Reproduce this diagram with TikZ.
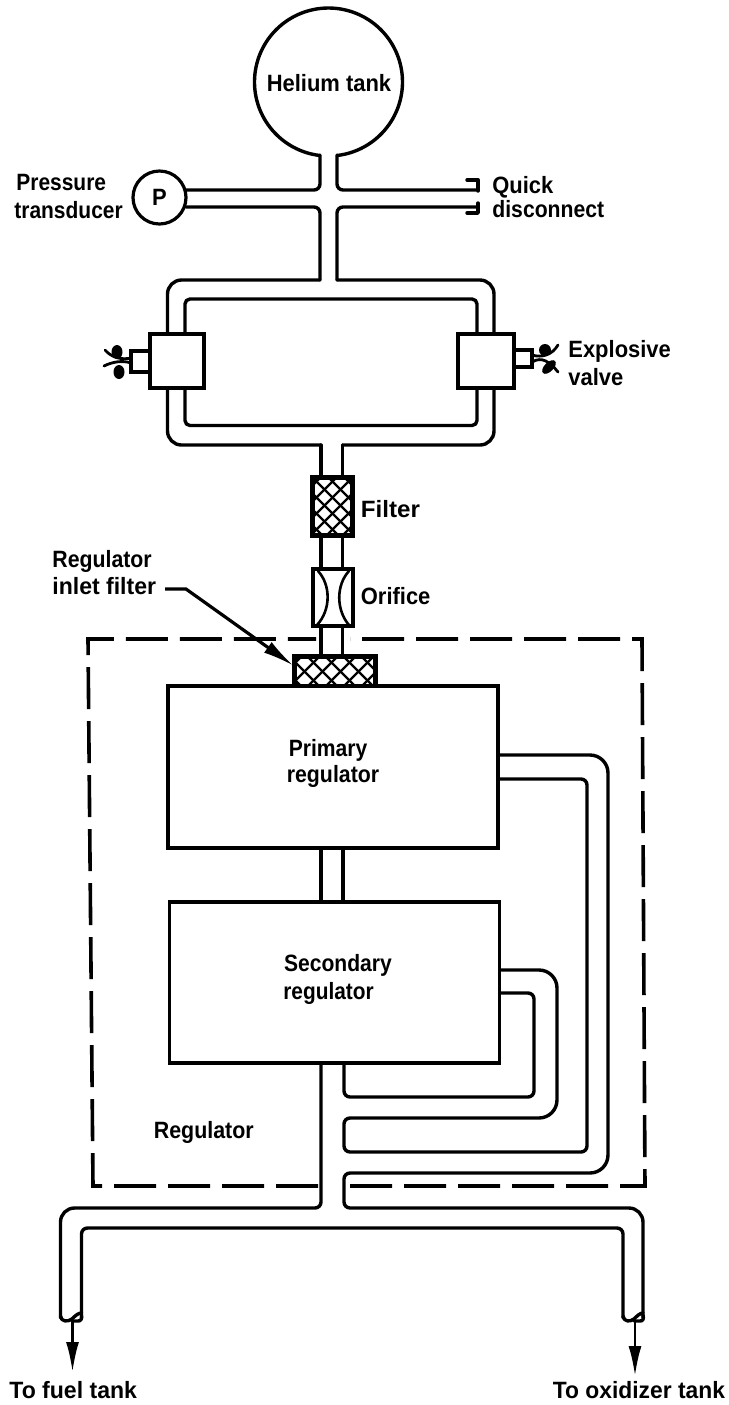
\documentclass[tikz,border=0pt]{standalone}
\usepackage{fontspec}
\usepackage{graphicx}
\setmainfont[FakeStretch=0.93]{Liberation Sans}
\usetikzlibrary{arrows.meta}
\newcommand{\hsz}[2]{\scalebox{#1}[1]{#2}}
\tikzset{
  pipe/.style={line width=1.7pt,line cap=round,line join=round},
  thinpipe/.style={line width=1.3pt,line cap=round,line join=round},
  boxshape/.style={draw,line width=1.6pt,fill=white,inner sep=0pt,rectangle},
  dashbox/.style={line width=1.8pt,dash pattern=on 21pt off 6pt},
  hatchline/.style={line width=1.1pt},
  lab/.style={anchor=base west,inner sep=0pt,font=\bfseries\fontsize{11.8}{13}\selectfont},
  labc/.style={anchor=base,inner sep=0pt,font=\bfseries\fontsize{11.8}{13}\selectfont},
  blob/.style={fill=black,draw=none},
  wire/.style={line width=1.4pt,line cap=round},
  flow/.style={line width=1.3pt,-{Latex[length=15pt,width=6.5pt]}}
}
\begin{document}
\begin{tikzpicture}[x=0.5pt,y=-0.5pt]
\useasboundingbox (0,0) rectangle (729,1405);
% tank
\draw[pipe,domain=-83:263,samples=150,variable=\t]
  plot ({328.5+74*cos(\t)},{82-74*sin(\t)});
% neck and upper walls of the cross pipe
\draw[pipe,rounded corners=3pt] (337,155) -- (337,190) -- (476,190);
\draw[pipe,rounded corners=3pt] (320,155) -- (320,190) -- (186,190);
% pressure transducer
\node[circle,draw,line width=1.6pt,minimum size=26.5pt,inner sep=0pt] (ptrans) at (159.5,197.5) {};
% lower walls and manifold top
\draw[pipe,rounded corners=3pt] (186,207) -- (320,207) -- (320,280);
\draw[pipe,rounded corners=7pt] (320,280) -- (167.5,280) -- (167.5,334);
\draw[pipe,rounded corners=3pt] (478,207) -- (337,207) -- (337,280);
\draw[pipe,rounded corners=7pt] (337,280) -- (494,280) -- (494,334);
% quick disconnect
\draw[pipe] (467,180) -- (478,180) -- (478,191);
\draw[pipe] (478,203) -- (478,213) -- (467,213);
% inner loop
\draw[pipe,rounded corners=2.5pt] (185,334) -- (185,299) -- (477,299) -- (477,334);
\draw[pipe,rounded corners=2.5pt] (185,388) -- (185,425.5) -- (477,425.5) -- (477,388);
% outer lower
\draw[pipe,rounded corners=7pt] (167.5,388) -- (167.5,445) -- (321,445);
\draw[pipe,rounded corners=7pt] (494,388) -- (494,445) -- (342.5,445);
\draw[pipe] (321,445) -- (321,478);
\draw[pipe] (342.5,445) -- (342.5,478);
% explosive valves
\draw[boxshape] (131,351) rectangle (150,372);
\draw[boxshape] (514,350) rectangle (532,367);
\node[boxshape,minimum width=27pt,minimum height=27pt] (valveL) at (177,361) {};
\node[boxshape,minimum width=28pt,minimum height=27pt] (valveR) at (486,361) {};
% squibs, left
\draw[wire] (131,358) .. controls (122,360) and (112,358) .. (105,350);
\draw[wire] (131,363) .. controls (122,360) and (112,362) .. (104,366);
\fill[blob] (117,352) ellipse (5.5 and 7);
\fill[blob] (119,372) ellipse (5.5 and 7);
% squibs, right
\draw[wire] (532,355) .. controls (542,358) and (552,355) .. (558,345);
\draw[wire] (532,362) .. controls (542,356) and (550,362) .. (558,372);
\fill[blob] (545,350) ellipse (6 and 6);
\fill[blob,rotate around={45:(549,367)}] (549,367) ellipse (8.5 and 4.5);
% filter
\node[boxshape,minimum width=19.5pt,minimum height=28.5pt] (filter) at (332.5,506.5) {};
\begin{scope}
  \clip (313,478) rectangle (352,535);
  \foreach \k in {-5,...,3}{
    \draw[hatchline] ({313+\k*16},478) -- ({313+\k*16+60},538);
    \draw[hatchline] ({352-\k*16},478) -- ({352-\k*16-60},538);
  }
\end{scope}
\draw[boxshape,fill=none] (filter.south west) rectangle (filter.north east);
\draw[pipe] (321,535) -- (321,569);
\draw[pipe] (342.5,535) -- (342.5,569);
% orifice
\node[boxshape,minimum width=20pt,minimum height=28.5pt] (orifice) at (333,597.5) {};
\draw[thinpipe] (318,571) .. controls (331,585) and (331,610) .. (317,625);
\draw[thinpipe] (349,571) .. controls (336,585) and (336,610) .. (349,625);
\draw[pipe] (321,626) -- (321,657);
\draw[pipe] (342.5,626) -- (342.5,657);
% regulator boundary
\draw[dashbox] (318,1186) -- (93,1186) -- (88,639) -- (316,639);
\draw[dashbox] (350,1186) -- (645,1186) -- (642,639) -- (350,639);
% inlet filter
\node[boxshape,minimum width=40pt,minimum height=14.5pt] (inlet) at (335,671.5) {};
\begin{scope}
  \clip (295,657) rectangle (375,686);
  \foreach \k in {-3,...,6}{
    \draw[hatchline] ({295+\k*18-5},657) -- ({295+\k*18+24},686);
    \draw[hatchline] ({295+\k*18+24},657) -- ({295+\k*18-5},686);
  }
\end{scope}
\draw[boxshape,fill=none] (inlet.south west) rectangle (inlet.north east);
% regulators
\node[boxshape,minimum width=165pt,minimum height=81pt] (primary) at (333,767) {};
\node[boxshape,minimum width=165pt,minimum height=80.5pt] (secondary) at (334.5,982.5) {};
\draw[pipe] (321,848) -- (321,902);
\draw[pipe] (343,848) -- (343,902);
% outlet plumbing
\draw[pipe,rounded corners=9pt] (499,755) -- (608,755) -- (608,1173)
  [rounded corners=3pt] -- (344,1173) -- (344,1208)
  [rounded corners=7pt] -- (643,1208) -- (643,1318);
\draw[pipe,rounded corners=3pt] (499,779) -- (587,779) -- (587,1152) -- (344,1152) -- (344,1118)
  [rounded corners=9pt] -- (557,1118) -- (557,970) -- (500,970);
\draw[pipe,rounded corners=3pt] (500,993) -- (534,993) -- (534,1097) -- (344,1097) -- (344,1063);
% main outlet
\draw[pipe,rounded corners=3pt] (321,1063) -- (321,1208)
  [rounded corners=7pt] -- (60.5,1208) -- (60.5,1318);
\draw[pipe,rounded corners=3pt] (81.5,1318) -- (81.5,1228) -- (623,1228) -- (623,1318);
% pipe ends
\draw[pipe] (60.5,1316) .. controls (61,1322) and (68,1322) .. (72,1319) .. controls (75,1316) and (78,1313) .. (81.5,1313);
\draw[pipe] (72,1321) -- (78,1321) .. controls (81,1321) and (82,1319) .. (81.5,1315);
\draw[pipe] (623,1316) .. controls (624,1322) and (630,1322) .. (634,1319) .. controls (637,1316) and (640,1313) .. (643,1313);
\draw[pipe] (634,1321) -- (640,1321) .. controls (643,1321) and (644,1319) .. (643,1315);
% labels
\node[labc] (tanklab) at (329,91.5) {Helium tank};
\node[labc] (plab) at (159.5,205.5) {P};
\node[lab] (l1) at (16,190.5) {\hsz{0.955}{Pressure}};
\node[lab] (l2) at (14,218) {\hsz{0.955}{transducer}};
\node[lab] (l3) at (492,193) {Quick};
\node[lab] (l4) at (492,217) {\hsz{0.965}{disconnect}};
\node[lab] (l5) at (568,357) {Explosive};
\node[lab] (l6) at (568,385) {valve};
\node[lab] (l7) at (360.5,517) {\hsz{1.1}{Filter}};
\node[lab] (l8) at (360.5,604) {Orifice};
\node[lab] (l9) at (52,567) {\hsz{0.97}{Regulator}};
\node[lab] (l10) at (52,594) {\hsz{1.05}{inlet filter}};
\node[labc] (l11) at (328,756) {\hsz{0.96}{Primary}};
\node[labc] (l12) at (333,782) {\hsz{0.97}{regulator}};
\node[labc] (l13) at (338,971) {\hsz{0.96}{Secondary}};
\node[labc] (l14) at (328.5,999) {\hsz{0.95}{regulator}};
\node[lab] (l15) at (153.5,1138) {\hsz{0.975}{Regulator}};
\node[lab] (l16) at (9,1398) {\hsz{1.05}{To fuel tank}};
\node[lab] (l17) at (552.5,1398) {\hsz{1.04}{To oxidizer tank}};
% leader
\coordinate (leadstart) at (165,589);
\coordinate (bend) at (186,589);
\coordinate (leadtip) at (294,666);
\draw[line width=1.6pt,-{Latex[length=16pt,width=6.5pt]}] (leadstart) -- (bend) -- (leadtip);
% outlet arrows
\coordinate (fuelfrom) at (72.5,1321);
\coordinate (fuelto) at (72.5,1372);
\coordinate (oxfrom) at (635,1321);
\coordinate (oxto) at (635,1376);
\draw[flow] (fuelfrom) -- (fuelto);
\draw[flow] (oxfrom) -- (oxto);
\end{tikzpicture}
\end{document}
